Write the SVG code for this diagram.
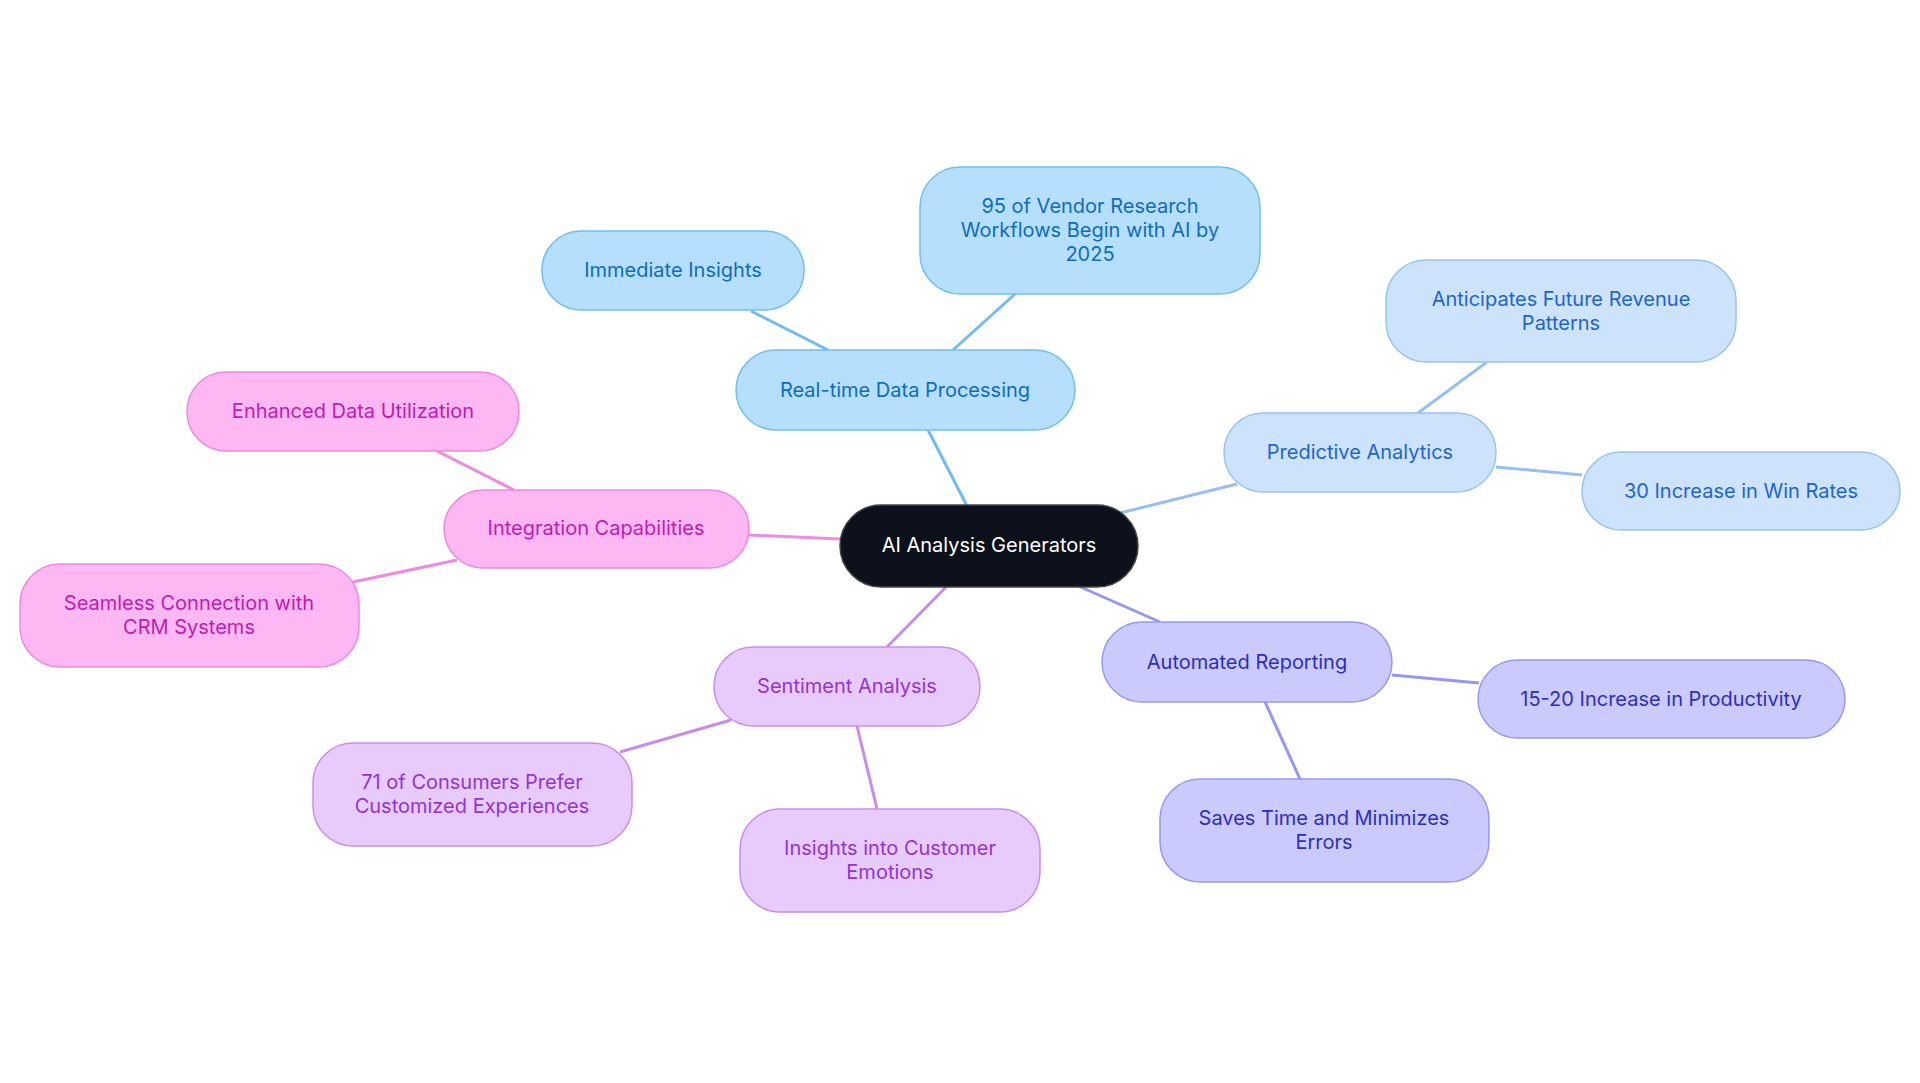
<svg xmlns="http://www.w3.org/2000/svg" width="1920" height="1083" viewBox="0 0 1920 1083">
<style>
text{font-family:Inter,"Noto Sans","Liberation Sans",sans-serif;font-size:20px;text-anchor:middle;dominant-baseline:central}
rect{stroke-width:1.5}
.c line{stroke-width:3;fill:none}
.b rect{fill:#b5dffc;stroke:#72bdf2}.b text{fill:#0f6cbd}
.p rect{fill:#cde3fb;stroke:#98c3f2}.p text{fill:#1d64d0}
.a rect{fill:#cacafd;stroke:#9898f2}.a text{fill:#2e2ebd}
.s rect{fill:#e7cbfc;stroke:#c88eee}.s text{fill:#9333d4}
.i rect{fill:#fdb7f3;stroke:#ee88df}.i text{fill:#c01bb2}
</style>
<rect width="1920" height="1083" fill="#fff"/>
<g class="c">
<g stroke="#72bbf0"><line x1="967" y1="506" x2="928" y2="430"/><line x1="828" y1="350" x2="751" y2="311"/><line x1="953" y1="350" x2="1015" y2="294"/></g>
<g stroke="#98bff2"><line x1="1120" y1="513" x2="1237" y2="484"/><line x1="1418" y1="413" x2="1487" y2="362"/><line x1="1496" y1="467" x2="1582" y2="475"/></g>
<g stroke="#9696f5"><line x1="1076" y1="585" x2="1160" y2="622"/><line x1="1392" y1="675" x2="1479" y2="683"/><line x1="1265" y1="702" x2="1300" y2="779"/></g>
<g stroke="#c88ced"><line x1="948" y1="585" x2="887" y2="647"/><line x1="731" y1="720" x2="620" y2="752"/><line x1="857" y1="726" x2="877" y2="809"/></g>
<g stroke="#f08ae0"><line x1="840" y1="539" x2="749" y2="535"/><line x1="514" y1="490" x2="437" y2="451"/><line x1="457" y1="560" x2="353" y2="582"/></g>
</g>
<g id="center"><rect x="840" y="505" width="298" height="82" rx="41" fill="#0c111b" stroke="#444"/><text x="989" y="545" fill="#fff">AI Analysis Generators</text></g>
<g id="rtdp" class="b"><rect x="736" y="350" width="339" height="80" rx="40"/><text x="905" y="390">Real-time Data Processing</text></g>
<g id="imm" class="b"><rect x="542" y="231" width="262" height="79" rx="39"/><text x="673" y="270">Immediate Insights</text></g>
<g id="v95" class="b"><rect x="920" y="167" width="340" height="127" rx="40"/><text x="1090" y="206">95 of Vendor Research</text><text x="1090" y="230">Workflows Begin with AI by</text><text x="1090" y="254">2025</text></g>
<g id="pred" class="p"><rect x="1224" y="413" width="272" height="79" rx="39"/><text x="1360" y="452">Predictive Analytics</text></g>
<g id="antic" class="p"><rect x="1386" y="260" width="350" height="102" rx="40"/><text x="1561" y="299">Anticipates Future Revenue</text><text x="1561" y="323">Patterns</text></g>
<g id="win" class="p"><rect x="1582" y="452" width="318" height="78" rx="39"/><text x="1741" y="491">30 Increase in Win Rates</text></g>
<g id="auto" class="a"><rect x="1102" y="622" width="290" height="80" rx="40"/><text x="1247" y="662">Automated Reporting</text></g>
<g id="prod" class="a"><rect x="1478" y="660" width="367" height="78" rx="39"/><text x="1661" y="699">15-20 Increase in Productivity</text></g>
<g id="saves" class="a"><rect x="1160" y="779" width="329" height="103" rx="40"/><text x="1324" y="818">Saves Time and Minimizes</text><text x="1324" y="842">Errors</text></g>
<g id="sent" class="s"><rect x="714" y="647" width="266" height="79" rx="39"/><text x="847" y="686">Sentiment Analysis</text></g>
<g id="cons" class="s"><rect x="313" y="743" width="319" height="103" rx="40"/><text x="472" y="782">71 of Consumers Prefer</text><text x="472" y="806">Customized Experiences</text></g>
<g id="emo" class="s"><rect x="740" y="809" width="300" height="103" rx="40"/><text x="890" y="848">Insights into Customer</text><text x="890" y="872">Emotions</text></g>
<g id="integ" class="i"><rect x="444" y="490" width="305" height="78" rx="39"/><text x="596" y="528">Integration Capabilities</text></g>
<g id="enh" class="i"><rect x="187" y="372" width="332" height="79" rx="39"/><text x="353" y="411">Enhanced Data Utilization</text></g>
<g id="crm" class="i"><rect x="20" y="564" width="339" height="103" rx="40"/><text x="189" y="603">Seamless Connection with</text><text x="189" y="627">CRM Systems</text></g>
</svg>
